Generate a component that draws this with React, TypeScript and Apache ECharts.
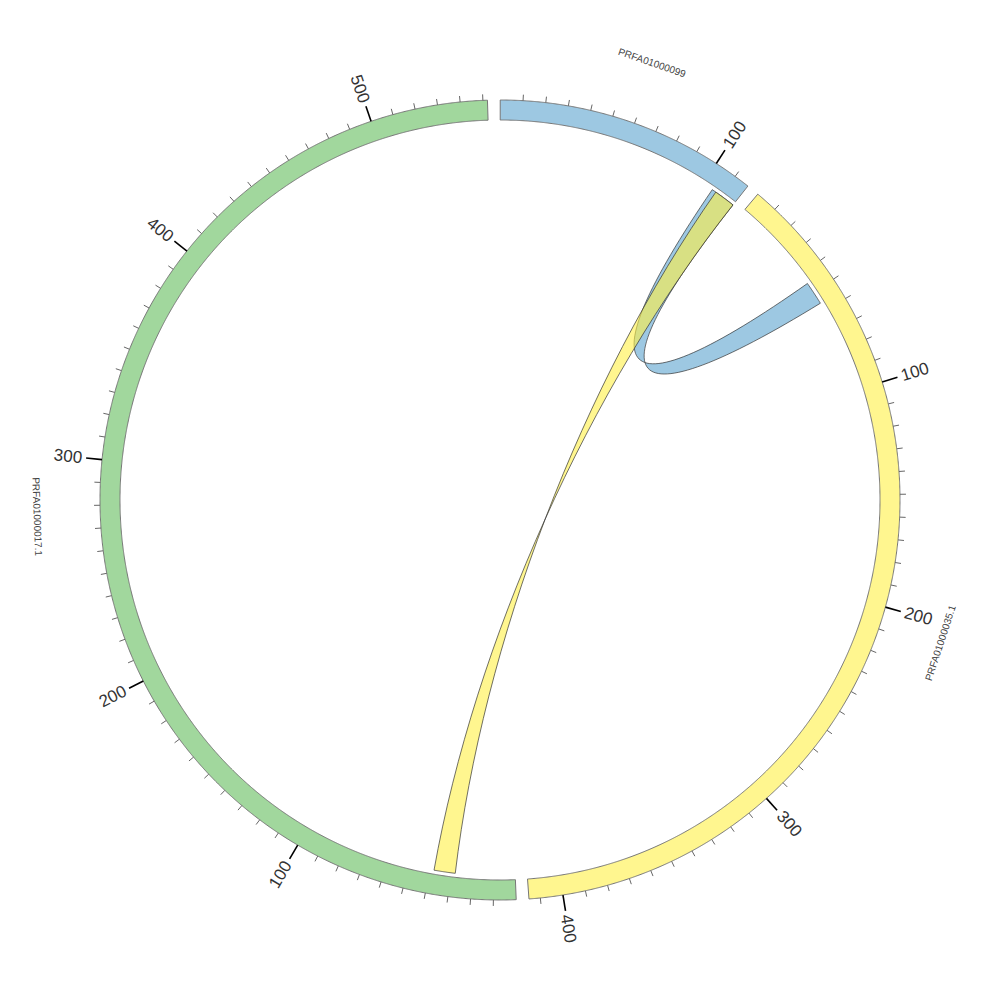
import React, { useEffect, useRef } from 'react';
import * as echarts from 'echarts';

// ---- data ----
const SEGMENT_NAMES = ['PRFA01000099', 'PRFA01000035.1', 'PRFA01000017.1'];
const SEGMENT_LENGTHS = [117, 415, 552];
const SEGMENT_COLORS = ['#9dc8e2', '#fff68f', '#a1d79d'];
const TICK_LABELS = [[100], [100, 200, 300, 400], [100, 200, 300, 400, 500]];
const MINOR_TICK_STEP = 10;

const LINK_FROM_SEGMENT = [0, 0];
const LINK_FROM_START = [105, 107];
const LINK_FROM_END = [117, 117];
const LINK_TO_SEGMENT = [1, 2];
const LINK_TO_START = [45, 28];
const LINK_TO_END = [56, 38];
const LINK_COLORS = ['rgba(157,200,226,1)', 'rgba(255,240,68,0.6)'];

// ---- layout ----
const GAP = 5.6;
const START_OFFSET = 0.1;
const R_OUT = 400;
const R_IN = 380;
const R_LINK = 376;
const R_CTRL = 143;
const R_MINOR = 406;
const R_MAJOR = 416;
const R_LABEL = 420;
const R_NAME = 463;
const FONT = '"Liberation Sans", Arial, sans-serif';

const SEGMENT_STARTS: number[] = [];
let acc = START_OFFSET;
SEGMENT_LENGTHS.forEach((l) => {
  SEGMENT_STARTS.push(acc);
  acc += l + GAP;
});
const TOTAL = acc - START_OFFSET;

type Tick = { seg: number; pos: number; major: boolean };
const TICKS: Tick[] = [];
SEGMENT_LENGTHS.forEach((len, seg) => {
  for (let p = MINOR_TICK_STEP; p <= len; p += MINOR_TICK_STEP) {
    TICKS.push({ seg, pos: p, major: TICK_LABELS[seg].includes(p) });
  }
});

function angleDeg(p: number[], c: number[]) {
  let a = (Math.atan2(p[0] - c[0], c[1] - p[1]) * 180) / Math.PI;
  if (a < 0) a += 360;
  return a;
}

export default function App() {
  const ref = useRef<HTMLDivElement>(null);
  useEffect(() => {
    if (!ref.current) return;
    const chart = echarts.init(ref.current, null, { renderer: 'svg' });
    const option: any = {
      animation: false,
      backgroundColor: '#ffffff',
      polar: { center: [500, 500], radius: R_OUT },
      angleAxis: {
        type: 'value',
        min: 0,
        max: TOTAL,
        startAngle: 90,
        clockwise: true,
        show: false,
      },
      radiusAxis: { type: 'value', min: 0, max: R_OUT, show: false },
      series: [
        {
          type: 'custom',
          coordinateSystem: 'polar',
          silent: true,
          data: SEGMENT_STARTS.map((s) => [R_OUT, s]),
          renderItem: (params: any, api: any) => {
            const i = params.dataIndex;
            const a0 = SEGMENT_STARTS[i];
            const a1 = a0 + SEGMENT_LENGTHS[i];
            const n = Math.ceil((a1 - a0) / 0.5);
            const pts: number[][] = [];
            for (let k = 0; k <= n; k++) pts.push(api.coord([R_OUT, a0 + ((a1 - a0) * k) / n]));
            for (let k = n; k >= 0; k--) pts.push(api.coord([R_IN, a0 + ((a1 - a0) * k) / n]));
            const c = api.coord([0, 0]);
            const mid = api.coord([R_NAME, (a0 + a1) / 2]);
            const th = angleDeg(mid, c);
            const rc = th > 90 && th < 270 ? th - 180 : th;
            return {
              type: 'group',
              children: [
                {
                  type: 'polygon',
                  shape: { points: pts },
                  style: { fill: SEGMENT_COLORS[i], stroke: '#777777', lineWidth: 1 },
                },
                {
                  type: 'text',
                  x: mid[0],
                  y: mid[1],
                  rotation: (-rc * Math.PI) / 180,
                  style: {
                    text: SEGMENT_NAMES[i],
                    fill: '#444444',
                    fontSize: 10,
                    fontFamily: FONT,
                    align: 'center',
                    verticalAlign: 'middle',
                  },
                },
              ],
            };
          },
        },
        {
          type: 'custom',
          coordinateSystem: 'polar',
          silent: true,
          data: TICKS.map((t) => [R_OUT, SEGMENT_STARTS[t.seg] + t.pos]),
          renderItem: (params: any, api: any) => {
            const t = TICKS[params.dataIndex];
            const a = SEGMENT_STARTS[t.seg] + t.pos;
            const p0 = api.coord([R_OUT, a]);
            const p1 = api.coord([t.major ? R_MAJOR : R_MINOR, a]);
            const children: any[] = [
              {
                type: 'line',
                shape: { x1: p0[0], y1: p0[1], x2: p1[0], y2: p1[1] },
                style: { stroke: t.major ? '#000000' : '#666666', lineWidth: t.major ? 1.6 : 1 },
              },
            ];
            if (t.major) {
              const c = api.coord([0, 0]);
              const pl = api.coord([R_LABEL, a]);
              const th = angleDeg(pl, c);
              const left = th < 180;
              const rc = left ? th - 90 : th - 270;
              children.push({
                type: 'text',
                x: pl[0],
                y: pl[1],
                rotation: (-rc * Math.PI) / 180,
                style: {
                  text: String(t.pos),
                  fill: '#333333',
                  fontSize: 17,
                  fontFamily: FONT,
                  align: left ? 'left' : 'right',
                  verticalAlign: 'middle',
                },
              });
            }
            return { type: 'group', children };
          },
        },
        {
          type: 'custom',
          coordinateSystem: 'polar',
          silent: true,
          data: LINK_FROM_START.map((s, i) => [R_LINK, SEGMENT_STARTS[LINK_FROM_SEGMENT[i]] + s]),
          renderItem: (params: any, api: any) => {
            const i = params.dataIndex;
            const fs = SEGMENT_STARTS[LINK_FROM_SEGMENT[i]];
            const ts = SEGMENT_STARTS[LINK_TO_SEGMENT[i]];
            const s0 = fs + LINK_FROM_START[i];
            const s1 = fs + LINK_FROM_END[i];
            const t0 = ts + LINK_TO_START[i];
            const t1 = ts + LINK_TO_END[i];
            const arc = (a0: number, a1: number) => {
              const n = Math.max(2, Math.ceil(Math.abs(a1 - a0) / 0.5));
              let d = '';
              for (let k = 1; k <= n; k++) {
                const p = api.coord([R_LINK, a0 + ((a1 - a0) * k) / n]);
                d += ` L ${p[0]} ${p[1]}`;
              }
              return d;
            };
            const curve = (a0: number, a1: number) => {
              const c0 = api.coord([R_CTRL, a0]);
              const c1 = api.coord([R_CTRL, a1]);
              const p = api.coord([R_LINK, a1]);
              return ` C ${c0[0]} ${c0[1]} ${c1[0]} ${c1[1]} ${p[0]} ${p[1]}`;
            };
            const ps0 = api.coord([R_LINK, s0]);
            // twisted ribbon: edges s1 -> t1 and t0 -> s0
            let d = `M ${ps0[0]} ${ps0[1]}`;
            d += arc(s0, s1);
            d += curve(s1, t1);
            d += arc(t1, t0);
            d += curve(t0, s0);
            d += ' Z';
            return {
              type: 'path',
              shape: { pathData: d },
              style: { fill: LINK_COLORS[i], stroke: '#333333', lineWidth: 0.7 },
            };
          },
        },
      ],
    };
    chart.setOption(option);
    return () => chart.dispose();
  }, []);
  return (
    <div
      ref={ref}
      style={{ position: 'absolute', left: 0, top: 0, width: 1000, height: 1000 }}
    />
  );
}
